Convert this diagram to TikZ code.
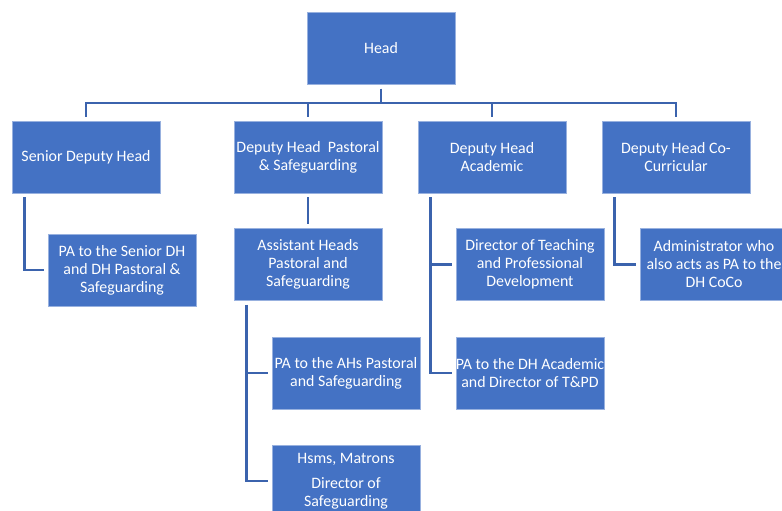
\documentclass[tikz,border=0pt]{standalone}
\usepackage{fontspec}
\setmainfont{Carlito}
\definecolor{boxblue}{HTML}{4472C4}
\definecolor{lineblue}{HTML}{3B63AD}
\begin{document}
\begin{tikzpicture}[x=1pt,y=-1pt,
  post/.style={rectangle,fill=boxblue,draw=boxblue!55!white,line width=0.7pt,minimum width=148pt,minimum height=72pt,inner sep=0pt,text=white,align=center,font=\fontsize{15.9pt}{18pt}\selectfont},
  link/.style={draw=lineblue,line width=2.6pt,shorten <=4pt,shorten >=4pt}]
\def \ybus{103};
\useasboundingbox (0,0) rectangle (782,511);
\clip (0,0) rectangle (782,511);
\node[post] (head) at (381,48.5) {Head};
\node[post] (sdh) at (86,157) {Senior Deputy Head};
\node[post] (dhp) at (308,157) {Deputy Head\ \ Pastoral\\\& Safeguarding};
\node[post] (dha) at (492,157) {Deputy Head\\Academic};
\node[post] (dhc) at (676,157) {Deputy Head Co-\\Curricular};
\node[post] (pasd) at (122,270) {PA to the Senior DH\\and DH Pastoral \&\\Safeguarding};
\node[post] (ahp) at (308,264.5) {Assistant Heads\\Pastoral and\\Safeguarding};
\node[post] (paah) at (346,373) {PA to the AHs Pastoral\\and Safeguarding};
\node[post] (hsms) at (346,481) {Hsms, Matrons\\[7pt]Director of\\Safeguarding};
\node[post] (dtpd) at (530,264.5) {Director of Teaching\\and Professional\\Development};
\node[post] (pada) at (530,373) {PA to the DH Academic\\and Director of T\&PD};
\node[post] (adm) at (714,264.5) {Administrator who\\also acts as PA to the\\DH CoCo};
\coordinate (bus) at (381,\ybus);
\foreach \n in {sdh,dhp,dha,dhc}
  \draw[link] (head.south) -- (bus) -| (\n.north);
\draw[link] ([xshift=13pt]sdh.south west) |- (pasd.west);
\draw[link] (dhp.south) -- (ahp.north);
\draw[link] ([xshift=13pt]ahp.south west) |- (paah.west);
\draw[link] ([xshift=13pt]ahp.south west) |- (hsms.west);
\draw[link] ([xshift=13pt]dha.south west) |- (dtpd.west);
\draw[link] ([xshift=13pt]dha.south west) |- (pada.west);
\draw[link] ([xshift=13pt]dhc.south west) |- (adm.west);
\end{tikzpicture}
\end{document}
